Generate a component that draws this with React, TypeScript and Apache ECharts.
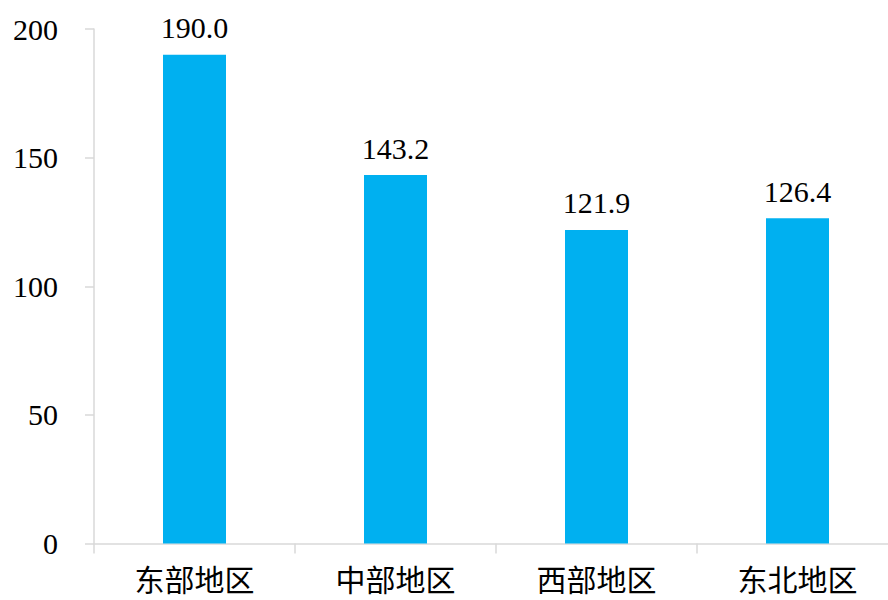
import React, { useEffect, useRef } from "react";
import * as echarts from "echarts";

const categories = ["东部地区", "中部地区", "西部地区", "东北地区"];
const values = [190.0, 143.2, 121.9, 126.4];
const yTicks = { min: 0, max: 200, interval: 50 };

export default function App() {
  const ref = useRef<HTMLDivElement>(null);
  useEffect(() => {
    const chart = echarts.init(ref.current!, null, { renderer: "svg" });
    const font = "'Liberation Serif', 'Times New Roman', 'Noto Sans CJK SC', serif";
    chart.setOption({
      animation: false,
      backgroundColor: "#ffffff",
      grid: { left: 94, right: 0, top: 29, bottom: 56.5, containLabel: false },
      xAxis: {
        type: "category",
        data: categories,
        axisLine: { show: true, lineStyle: { color: "#d9d9d9", width: 1.5 } },
        axisTick: { show: true, alignWithLabel: false, length: 10, lineStyle: { color: "#d9d9d9", width: 1.5 } },
        axisLabel: { color: "#000", fontSize: 30, fontFamily: font, margin: 22 },
      },
      yAxis: {
        type: "value",
        min: yTicks.min,
        max: yTicks.max,
        interval: yTicks.interval,
        splitLine: { show: false },
        axisLine: { show: true, lineStyle: { color: "#d9d9d9", width: 1.5 } },
        axisTick: { show: true, length: 9, lineStyle: { color: "#d9d9d9", width: 1.5 } },
        axisLabel: { color: "#000", fontSize: 30, fontFamily: font, margin: 36 },
      },
      series: [
        {
          type: "bar",
          data: values,
          barWidth: 63,
          itemStyle: { color: "#00B0F0" },
          label: {
            show: true,
            position: "top",
            distance: 12,
            color: "#000",
            fontSize: 30,
            fontFamily: font,
            formatter: (p: any) => Number(p.value).toFixed(1),
          },
        },
      ],
    });
    return () => chart.dispose();
  }, []);
  return (
    <div
      style={{ position: "fixed", left: 0, top: 0, width: 888, height: 600, overflow: "hidden", background: "#fff" }}
    >
      <div ref={ref} style={{ width: 898, height: 600 }} />
    </div>
  );
}
